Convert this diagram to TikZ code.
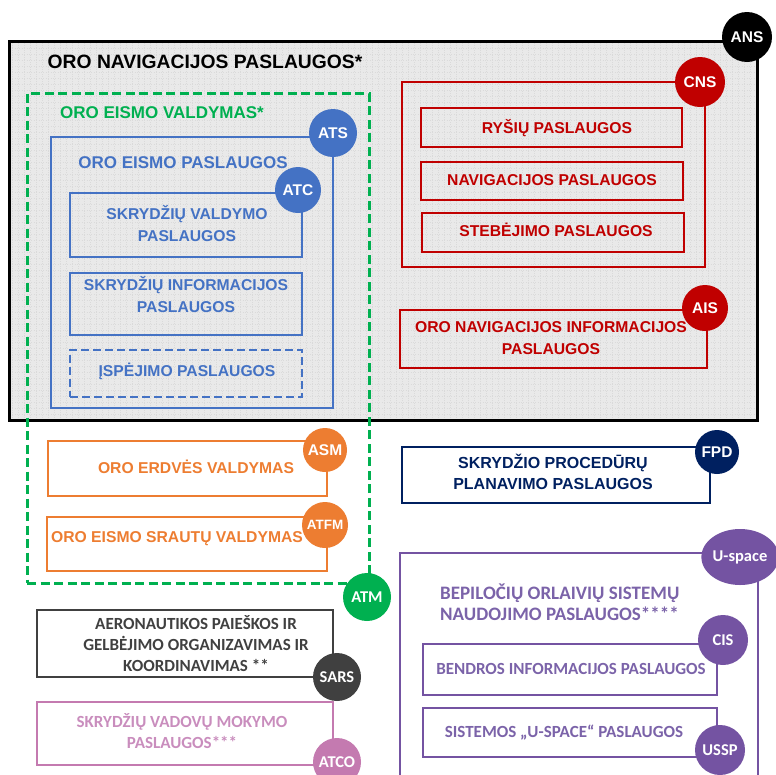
\documentclass[tikz,border=0pt]{standalone}
\usepackage{fontspec}
\setmainfont{Liberation Sans}
\newfontfamily\calfont{Carlito}
\usetikzlibrary{shapes.geometric}
\definecolor{cblue}{HTML}{4472C4}
\definecolor{cred}{HTML}{C00000}
\definecolor{cgreen}{HTML}{00B050}
\definecolor{corange}{HTML}{ED7D31}
\definecolor{cnavy}{HTML}{002060}
\definecolor{cpurple}{HTML}{7453A2}
\definecolor{cpurpletxt}{HTML}{7B63A9}
\definecolor{cpink}{HTML}{C47AB0}
\definecolor{cpinktxt}{HTML}{C98DBD}
\definecolor{cgray}{HTML}{404040}
\definecolor{bgray}{HTML}{E9E9E9}
\definecolor{dotgray}{HTML}{DADADA}
\tikzset{
  box/.style={draw, rectangle, line width=1.8pt, inner sep=0pt},
  lbl/.style={font=\bfseries\fontsize{15.7}{22}\selectfont, align=center, inner sep=0pt},
  clbl/.style={font=\calfont\bfseries\fontsize{17}{21}\selectfont, align=center, inner sep=0pt},
  badge/.style={circle, draw=none, text=white, inner sep=0pt, font=\bfseries\fontsize{15.5}{17}\selectfont},
  cbadge/.style={circle, draw=none, text=white, inner sep=0pt, font=\calfont\bfseries\fontsize{16.5}{18}\selectfont},
}
\begin{document}
\begin{tikzpicture}[x=1pt,y=-1pt]
\useasboundingbox (0,0) rectangle (776,774);
% ANS box
\node[rectangle, fill=bgray, draw=none, minimum width=747pt, minimum height=378pt, inner sep=0pt] (ans) at (383.5,231) {};
\begin{scope}
\clip (ans.south west) rectangle (ans.north east);
\draw[step=6pt, color=dotgray, line width=0.4pt, dash pattern=on 0.8pt off 1.6pt] (ans.south west) grid (ans.north east);
\end{scope}
\draw[line width=3pt, black] (ans.south west) rectangle (ans.north east);
\node[lbl, font=\bfseries\fontsize{19.3}{22}\selectfont] (tans) at (205,62) {ORO NAVIGACIJOS PASLAUGOS*};

% ATM dashed box
\node[box, draw=cgreen, line width=3pt, dash pattern=on 9pt off 4.5pt, minimum width=342pt, minimum height=490pt] (atm) at (198,338) {};
\node[lbl, text=cgreen, font=\bfseries\fontsize{17}{20}\selectfont] (tatm) at (162,113) {ORO EISMO VALDYMAS*};

% ATS
\node[box, draw=cblue, minimum width=282pt, minimum height=271pt] (ats) at (192,272.5) {};
\node[lbl, text=cblue, font=\bfseries\fontsize{17}{20}\selectfont] (tats) at (183,163) {ORO EISMO PASLAUGOS};
\node[box, draw=cblue, minimum width=232pt, minimum height=64pt] (svp) at (186,225) {};
\node[lbl, text=cblue] (tsvp) at (187,224) {SKRYDŽIŲ VALDYMO\\PASLAUGOS};
\node[box, draw=cblue, minimum width=232pt, minimum height=62pt] (sip) at (186,304) {};
\node[lbl, text=cblue] (tsip) at (186,295) {SKRYDŽIŲ INFORMACIJOS\\PASLAUGOS};
\node[box, draw=cblue, line width=2.4pt, dash pattern=on 8pt off 4pt, minimum width=232pt, minimum height=47pt] (isp) at (186,373.5) {};
\node[lbl, text=cblue] (tisp) at (187,371) {ĮSPĖJIMO PASLAUGOS};

% ASM / ATFM
\node[box, draw=corange, minimum width=279pt, minimum height=55pt] (asm) at (187.5,468.5) {};
\node[lbl, text=corange] (tasm) at (196,467) {ORO ERDVĖS VALDYMAS};
\node[box, draw=corange, minimum width=280pt, minimum height=54pt] (atfm) at (187,544) {};
\node[lbl, text=corange] (tatfm) at (177,539) {ORO EISMO SRAUTŲ VALDYMAS};

% CNS
\node[box, draw=cred, minimum width=303pt, minimum height=185pt] (cns) at (553.5,174.5) {};
\node[box, draw=cred, minimum width=261pt, minimum height=39pt] (rys) at (551.5,127.5) {};
\node[lbl, text=cred] (trys) at (557,128) {RYŠIŲ PASLAUGOS};
\node[box, draw=cred, minimum width=262pt, minimum height=38pt] (nav) at (552,181) {};
\node[lbl, text=cred] (tnav) at (552,180) {NAVIGACIJOS PASLAUGOS};
\node[box, draw=cred, minimum width=262pt, minimum height=39pt] (ste) at (553,232.5) {};
\node[lbl, text=cred] (tste) at (556,230) {STEBĖJIMO PASLAUGOS};

% AIS
\node[box, draw=cred, minimum width=307pt, minimum height=58pt] (ais) at (553.5,339) {};
\node[lbl, text=cred] (tais) at (551,338) {ORO NAVIGACIJOS INFORMACIJOS\\PASLAUGOS};

% FPD
\node[box, draw=cnavy, minimum width=308pt, minimum height=56pt] (fpd) at (556,475) {};
\node[lbl, text=cnavy, font=\bfseries\fontsize{16}{21}\selectfont] (tfpd) at (553,472) {SKRYDŽIO PROCEDŪRŲ\\PLANAVIMO PASLAUGOS};

% U-space
\node[box, draw=cpurple, minimum width=358pt, minimum height=260pt] (usp) at (579,683) {};
\node[clbl, text=cpurpletxt, align=left, anchor=west, font=\calfont\bfseries\fontsize{19}{21}\selectfont] (tusp) at (440,602) {BEPILOČIŲ ORLAIVIŲ SISTEMŲ\\NAUDOJIMO PASLAUGOS****};
\node[box, draw=cpurple, fill=white, minimum width=294pt, minimum height=51pt] (bip) at (570,669.5) {};
\node[clbl, text=cpurpletxt] (tbip) at (571,669) {BENDROS INFORMACIJOS PASLAUGOS};
\node[box, draw=cpurple, fill=white, minimum width=294pt, minimum height=49pt] (sup) at (570,732.5) {};
\node[clbl, text=cpurpletxt] (tsup) at (564,733) {SISTEMOS „U-SPACE“ PASLAUGOS};

% SARS / ATCO
\node[box, draw=cgray, minimum width=296pt, minimum height=67pt] (sars) at (185,643.5) {};
\node[clbl, text=cgray, font=\calfont\bfseries\fontsize{17}{21}\selectfont] (tsars) at (196,644) {AERONAUTIKOS PAIEŠKOS IR\\GELBĖJIMO ORGANIZAVIMAS IR\\KOORDINAVIMAS **};
\node[box, draw=cpink, minimum width=296pt, minimum height=63pt] (atco) at (185,733.5) {};
\node[clbl, text=cpinktxt] (tatco) at (182,731) {SKRYDŽIŲ VADOVŲ MOKYMO\\PASLAUGOS***};

% badges
\node[badge, fill=black, minimum size=50pt] (bans) at (747,37) {ANS};
\node[badge, fill=cred, minimum size=50pt] (bcns) at (700,82) {CNS};
\node[badge, fill=cred, minimum size=46pt] (bais) at (705,308) {AIS};
\node[badge, fill=cblue, minimum size=48pt] (bats) at (333,133) {ATS};
\node[badge, fill=cblue, minimum size=46pt] (batc) at (298,190) {ATC};
\node[badge, fill=corange, minimum size=44pt] (basm) at (325,450) {ASM};
\node[badge, fill=corange, minimum size=46pt, font=\bfseries\fontsize{13.5}{15}\selectfont] (batfm) at (325,525) {ATFM};
\node[badge, fill=cnavy, minimum size=44pt] (bfpd) at (717,452) {FPD};
\node[cbadge, fill=cgreen, minimum size=48pt] (batm) at (367,597) {ATM};
\node[cbadge, fill=cgray, minimum size=48pt] (bsars) at (337,677) {SARS};
\node[cbadge, fill=cpink, minimum size=48pt] (batco) at (337,762) {ATCO};
\node[cbadge, ellipse, fill=cpurple, minimum width=66pt, minimum height=56pt] (buspace) at (740,557) {U-space};
\node[cbadge, fill=cpurple, minimum size=50pt] (bcis) at (723,640) {CIS};
\node[cbadge, fill=cpurple, minimum size=50pt] (bussp) at (720,750) {USSP};
\end{tikzpicture}
\end{document}
